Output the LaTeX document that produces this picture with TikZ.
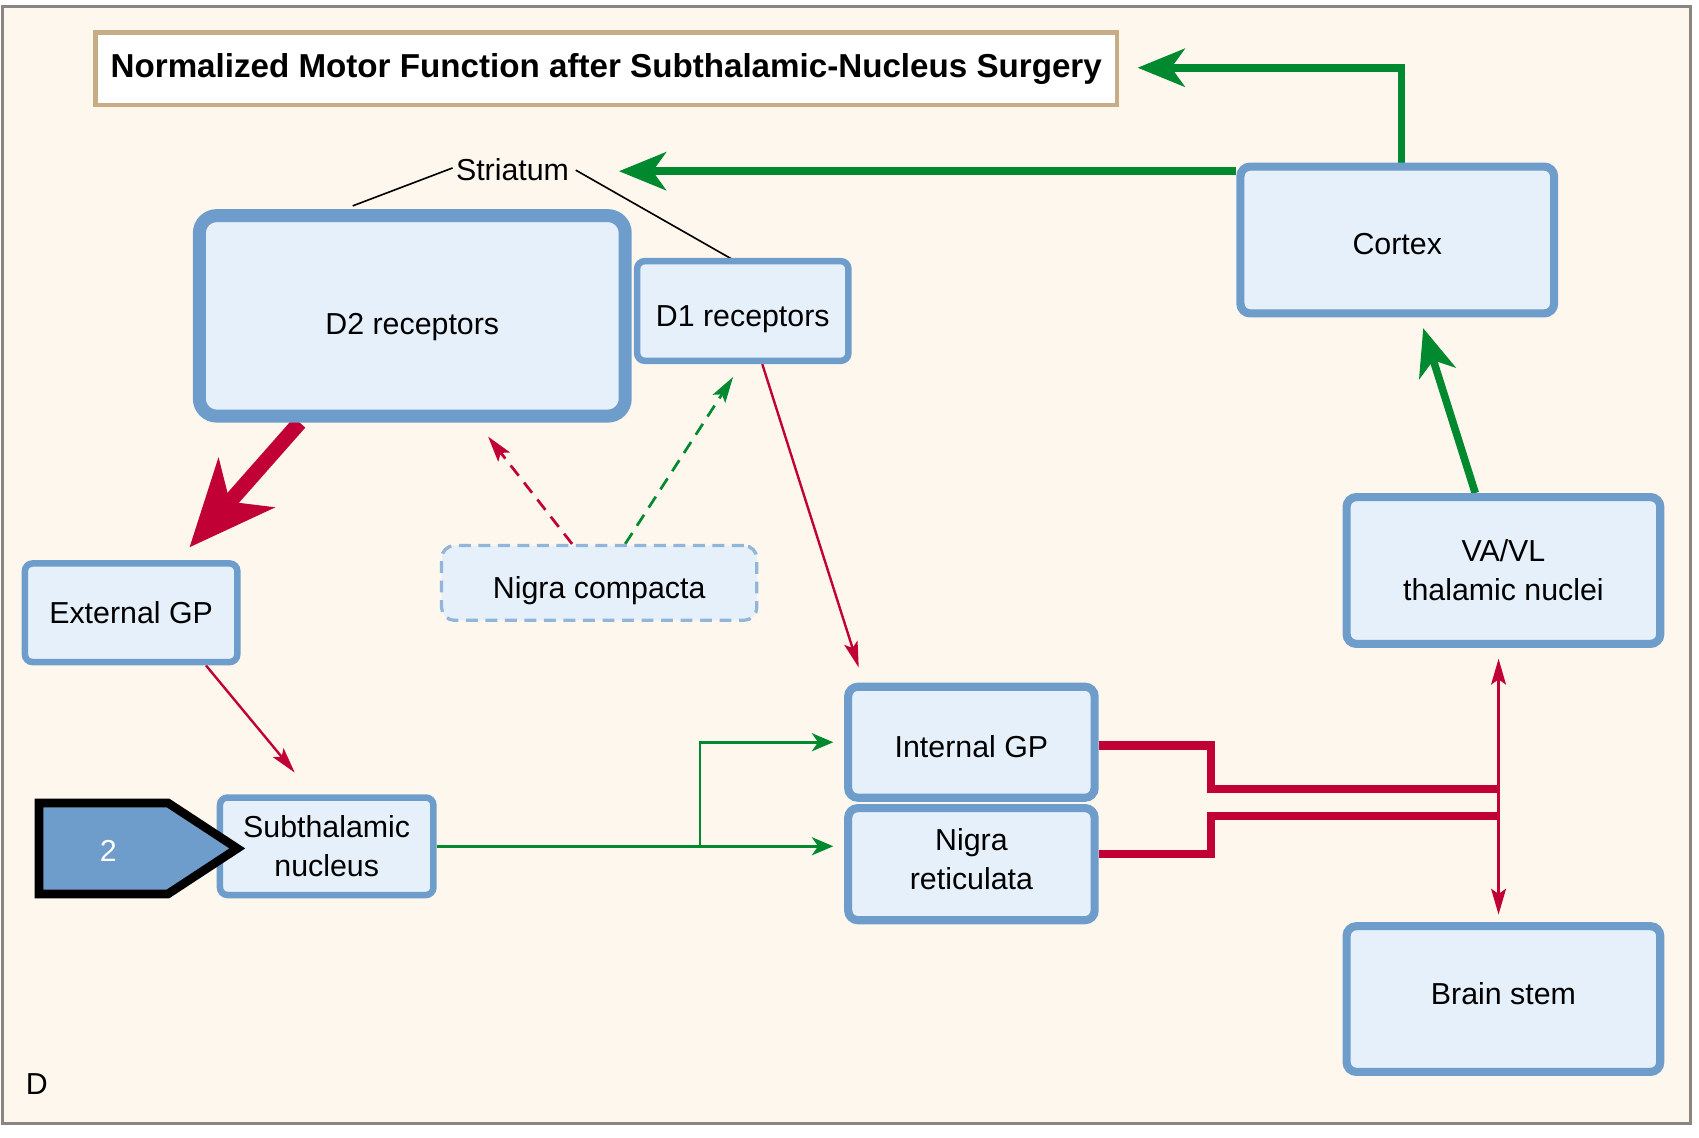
\documentclass[tikz,border=0pt]{standalone}
\usepackage{fontspec}
\setmainfont{Liberation Sans}
\usetikzlibrary{arrows.meta,calc}
\pgfdeclarelayer{back}
\pgfdeclarelayer{edges}
\pgfsetlayers{back,edges,main}
\definecolor{bgc}{HTML}{FEF7ED}
\definecolor{framec}{HTML}{8A8580}
\definecolor{boxfill}{HTML}{E6F0FA}
\definecolor{boxline}{HTML}{6E9DCB}
\definecolor{dashline}{HTML}{92B5DA}
\definecolor{titleline}{HTML}{C6AD86}
\definecolor{gr}{HTML}{00892E}
\definecolor{rd}{HTML}{C10035}
\newcommand\mylab{\fontsize{28}{36}\selectfont}
\newcommand\mytitle{\fontsize{30.6}{36}\selectfont\bfseries}
\begin{document}
\begin{tikzpicture}[x=1pt,y=-1pt,
  box/.style={draw=boxline, fill=boxfill, line width=6pt, rounded corners=7pt,
    align=center, inner sep=0pt, font=\mylab},
  bbox/.style={box, line width=7.5pt, rounded corners=9pt},
  d2box/.style={box, line width=12pt, rounded corners=16pt},
  ncbox/.style={box, draw=dashline, line width=3pt, dash pattern=on 11pt off 7pt, rounded corners=12pt},
  titlebox/.style={draw=titleline, fill=white, line width=4pt, inner sep=0pt, font=\mytitle},
  gthick/.style={draw=gr, line width=7pt, -{Stealth[length=44pt,width=36pt,inset=13pt,line width=0pt]}},
  rthick/.style={draw=rd, line width=14pt, -{Stealth[length=80pt,width=70pt,inset=24pt,line width=0pt]}},
  rmid/.style={draw=rd, line width=7.5pt},
  rthin/.style={draw=rd, line width=2.2pt, -{Stealth[length=24pt,width=13pt,inset=5pt,line width=0pt]}},
  gthin/.style={draw=gr, line width=2.5pt, -{Stealth[length=20pt,width=17pt,inset=6pt,line width=0pt]}},
  rdash/.style={draw=rd, line width=2.5pt, dash pattern=on 12pt off 8pt, -{Stealth[length=24pt,width=14pt,inset=5pt,line width=0pt]}},
  gdash/.style={draw=gr, line width=2.5pt, dash pattern=on 12pt off 8pt, -{Stealth[length=24pt,width=14pt,inset=5pt,line width=0pt]}},
  striat/.style={draw=black, line width=1.5pt}
]
\useasboundingbox (0,0) rectangle (1568,1050);
\begin{pgfonlayer}{back}
  \draw[line width=3pt, draw=framec, fill=bgc] (2,6) rectangle (1560,1037);
\end{pgfonlayer}

% nodes
\node[titlebox, minimum width=943pt, minimum height=67pt] (title) at (559.5,63.5)
  {Normalized Motor Function after Subthalamic-Nucleus Surgery};
\node[font=\mylab, inner sep=0pt] (striatum) at (473,157) {Striatum};
\node[d2box, minimum width=393pt, minimum height=185pt, text height=35pt, text depth=0pt] (d2) at (380.5,291.5) {D2 receptors};
\node[box, minimum width=195pt, minimum height=92pt, text height=28pt, text depth=0pt] (d1) at (685.5,287) {D1 receptors};
\node[bbox, minimum width=289.5pt, minimum height=135.5pt, text height=26pt, text depth=0pt] (cortex) at (1289.5,221.5) {Cortex};
\node[bbox, minimum width=289.5pt, minimum height=135.5pt] (vavl) at (1387.5,526.5) {VA/VL\\thalamic nuclei};
\node[bbox, minimum width=289.5pt, minimum height=134.5pt, text height=10pt, text depth=0pt] (bs) at (1387.5,922) {Brain stem};
\node[bbox, minimum width=227.5pt, minimum height=102.5pt, text height=28pt, text depth=0pt] (intgp) at (896.5,685) {Internal GP};
\node[bbox, minimum width=227.5pt, minimum height=103.5pt, text depth=10pt] (nr) at (896.5,797.5) {Nigra\\reticulata};
\node[box, minimum width=196pt, minimum height=91pt, text height=20pt, text depth=0pt] (extgp) at (121,565.5) {External GP};
\node[box, minimum width=197pt, minimum height=90pt] (sub) at (301.5,781) {Subthalamic\\nucleus};
\node[ncbox, minimum width=291pt, minimum height=69pt, text height=28pt, text depth=0pt] (nc) at (553,538) {Nigra compacta};
\node[font=\mylab, inner sep=0pt] (dlab) at (34,1000) {D};

% marker 2
\draw[line width=8pt, draw=black, fill=boxline, line join=miter]
  (36,741) -- (155,741) -- (219,783) -- (155,825) -- (36,825) -- cycle;
\node[font=\mylab, text=white, inner sep=0pt] (two) at (100,785) {2};

% connectors
\begin{pgfonlayer}{edges}
  \draw[striat] ($(striatum.west)+(-3,-2)$) -- ($(d2.north)+(-55,-3)$);
  \draw[striat] ($(striatum.east)+(6,0)$) -- ($(d1.north)+(-5,4)$);

  \draw[gthick] ($(cortex.north)+(4,0)$) |- ($(title.east)+(17,-1)$);
  \draw[gthick] ($(cortex.north west)+(0,8)$) -- ($(striatum.east)+(46,1)$);
  \draw[gthick] ($(vavl.north)+(-26,0)$) -- ($(cortex.south)+(24,10)$);

  \draw[rthick] ($(d2.south)+(-104,0)$) -- ($(extgp.north)+(54,-12)$);
  \draw[rthin] ($(extgp.south)+(69,0)$) -- ($(sub.north)+(-29.5,-20)$);
  \draw[rthin] ($(d1.south)+(18,0)$) -- ($(intgp.north)+(-104,-14)$);

  \draw[rdash] ($(nc.north)+(-25,0)$) -- ($(d2.south)+(70,13)$);
  \draw[gdash] ($(nc.north)+(24,0)$) -- ($(d1.south)+(-9,12)$);

  \draw[gthin, shorten >=10pt] (sub.east) -- (sub.east -| nr.west);
  \coordinate (br) at (646,781);
  \draw[gthin, shorten >=10pt] (br) |- (intgp.west);

  \coordinate (jt) at (1383,728);
  \coordinate (jb) at (1383,753);
  \draw[rmid] ($(intgp.east)+(0,3)$) -- ++(104,0) |- (jt);
  \draw[rmid] ($(nr.east)+(0,-9)$) -- ++(104,0) |- (jb);
  \draw[draw=rd, line width=2.2pt, {Stealth[length=24pt,width=14pt,inset=5pt,line width=0pt]}-{Stealth[length=24pt,width=14pt,inset=5pt,line width=0pt]}]
    ($(vavl.south)+(-4.5,10)$) -- ($(bs.north)+(-4.5,-7)$);
\end{pgfonlayer}
\end{tikzpicture}
\end{document}
